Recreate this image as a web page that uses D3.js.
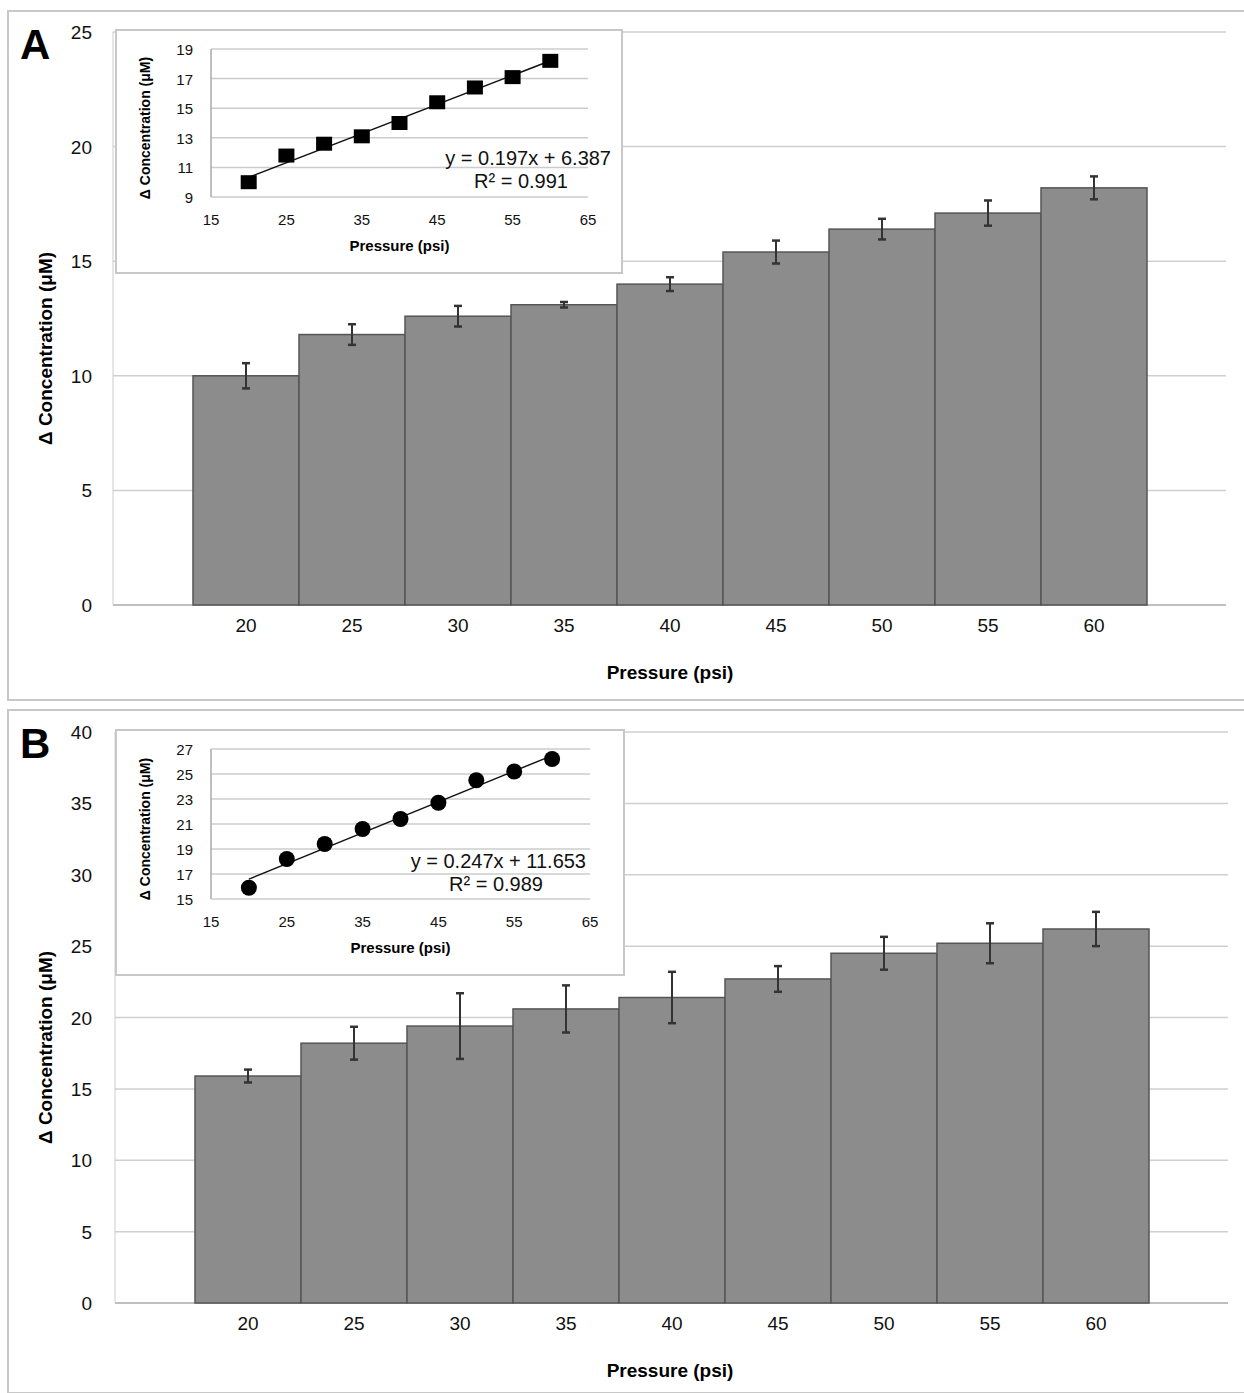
<!DOCTYPE html>
<html>
<head>
<meta charset="utf-8">
<script src="https://cdn.jsdelivr.net/npm/d3@7"></script>
<style>
  body { margin: 0; background: #fff; }
  text { font-family: "Liberation Sans", Arial, sans-serif; }
</style>
</head>
<body>
<svg id="chart" width="1244" height="1393"></svg>
<script>
const pressures = [20, 25, 30, 35, 40, 45, 50, 55, 60];
const meansA = [10.0, 11.8, 12.6, 13.1, 14.0, 15.4, 16.4, 17.1, 18.2];
const errA = [0.55, 0.45, 0.45, 0.12, 0.3, 0.5, 0.45, 0.55, 0.5];
const meansB = [15.9, 18.2, 19.4, 20.6, 21.4, 22.7, 24.5, 25.2, 26.2];
const errB = [0.45, 1.15, 2.3, 1.65, 1.8, 0.9, 1.15, 1.4, 1.2];
const ticksA = [0, 5, 10, 15, 20, 25];
const ticksB = [0, 5, 10, 15, 20, 25, 30, 35, 40];
const insetXTicks = [15, 25, 35, 45, 55, 65];
const insetTicksA = [9, 11, 13, 15, 17, 19];
const insetTicksB = [15, 17, 19, 21, 23, 25, 27];

const svg = d3.select("#chart");

function drawPanel(p) {
    const g = svg.append("g");
    g.append("rect").attr("x", p.box[0]).attr("y", p.box[1])
        .attr("width", p.box[2]).attr("height", p.box[3])
        .attr("fill", "#fff").attr("stroke", "#c8c8c8").attr("stroke-width", 2);

    const y = d3.scaleLinear().domain([0, p.yMax]).range([p.y0, p.yTop]);
    const x = d3.scaleBand().domain(pressures).range([p.barL, p.barR]).padding(0);

    // gridlines
    g.selectAll(".grid").data(p.ticks.slice(1)).join("line")
        .attr("x1", p.axL).attr("x2", p.axR)
        .attr("y1", d => y(d)).attr("y2", d => y(d))
        .attr("stroke", "#cfcfcf").attr("stroke-width", 1.5);
    g.append("line").attr("x1", p.axL).attr("x2", p.axR).attr("y1", p.y0).attr("y2", p.y0)
        .attr("stroke", "#aaa").attr("stroke-width", 1.5);
    g.append("line").attr("x1", p.axL).attr("x2", p.axL).attr("y1", p.y0).attr("y2", p.yTop)
        .attr("stroke", "#ccc").attr("stroke-width", 1);

    g.selectAll(".ytick").data(p.ticks).join("text")
        .attr("x", 92).attr("y", d => y(d) + 7).attr("text-anchor", "end")
        .attr("font-size", 19).attr("fill", "#111").text(d => d);

    // bars
    g.selectAll(".bar").data(p.means).join("rect")
        .attr("x", (d, i) => x(pressures[i]))
        .attr("y", d => y(d))
        .attr("width", x.bandwidth())
        .attr("height", d => p.y0 - y(d))
        .attr("fill", "#8c8c8c").attr("stroke", "#555").attr("stroke-width", 1.5);

    // error bars
    p.means.forEach((m, i) => {
        const cx = x(pressures[i]) + x.bandwidth() / 2;
        const e = p.err[i];
        g.append("line").attr("x1", cx).attr("x2", cx).attr("y1", y(m - e)).attr("y2", y(m + e))
            .attr("stroke", "#333").attr("stroke-width", 2);
        [m - e, m + e].forEach(v => g.append("line").attr("x1", cx - 4).attr("x2", cx + 4)
            .attr("y1", y(v)).attr("y2", y(v)).attr("stroke", "#333").attr("stroke-width", 2.5));
    });

    g.selectAll(".xtick").data(pressures).join("text")
        .attr("x", d => x(d) + x.bandwidth() / 2).attr("y", p.y0 + 27)
        .attr("text-anchor", "middle").attr("font-size", 19).attr("fill", "#111").text(d => d);

    g.append("text").attr("x", 670).attr("y", p.y0 + 74).attr("text-anchor", "middle")
        .attr("font-size", 19).attr("font-weight", "bold").text("Pressure (psi)");
    g.append("text").attr("transform", `translate(52,${(p.y0 + p.yTop) / 2 + 30}) rotate(-90)`)
        .attr("text-anchor", "middle").attr("font-size", 19).attr("font-weight", "bold")
        .text("Δ Concentration (μM)");
    g.append("text").attr("x", 20).attr("y", p.box[1] + 48).attr("font-size", 42)
        .attr("font-weight", "bold").text(p.label);

    // inset
    const ins = p.inset;
    g.append("rect").attr("x", ins.box[0]).attr("y", ins.box[1])
        .attr("width", ins.box[2]).attr("height", ins.box[3])
        .attr("fill", "#fff").attr("stroke", "#c8c8c8").attr("stroke-width", 2);
    const ix = d3.scaleLinear().domain([15, 65]).range([ins.xL, ins.xR]);
    const iy = d3.scaleLinear().domain(ins.yDom).range([ins.yB, ins.yT]);
    g.selectAll(".igrid").data(ins.ticks.slice(1)).join("line")
        .attr("x1", ins.xL).attr("x2", ins.xR).attr("y1", d => iy(d)).attr("y2", d => iy(d))
        .attr("stroke", "#ccc").attr("stroke-width", 1.5);
    g.append("line").attr("x1", ins.xL).attr("x2", ins.xR).attr("y1", ins.yB).attr("y2", ins.yB)
        .attr("stroke", "#ccc").attr("stroke-width", 1.5);
    g.append("line").attr("x1", ins.xL).attr("x2", ins.xL).attr("y1", ins.yB).attr("y2", ins.yT)
        .attr("stroke", "#aaa").attr("stroke-width", 1.5);
    g.selectAll(".iyt").data(ins.ticks).join("text")
        .attr("x", ins.xL - 18).attr("y", d => iy(d) + 6).attr("text-anchor", "end")
        .attr("font-size", 15).attr("fill", "#111").text(d => d);
    g.selectAll(".ixt").data(insetXTicks).join("text")
        .attr("x", d => ix(d)).attr("y", ins.yB + 28).attr("text-anchor", "middle")
        .attr("font-size", 15).attr("fill", "#111").text(d => d);
    g.append("text").attr("x", (ins.xL + ins.xR) / 2).attr("y", ins.yB + 54)
        .attr("text-anchor", "middle").attr("font-size", 15).attr("font-weight", "bold")
        .text("Pressure (psi)");
    g.append("text").attr("transform", `translate(150,${(ins.yB + ins.yT) / 2 + 5}) rotate(-90)`)
        .attr("text-anchor", "middle").attr("font-size", 14).attr("font-weight", "bold")
        .text("Δ Concentration (μM)");
    g.append("line").attr("x1", ix(20)).attr("x2", ix(60))
        .attr("y1", iy(ins.slope * 20 + ins.icpt)).attr("y2", iy(ins.slope * 60 + ins.icpt))
        .attr("stroke", "#111").attr("stroke-width", 1.5);
    g.selectAll(".pt").data(p.means).join(ins.marker === "square" ? "rect" : "circle")
        .each(function (d, i) {
            const s = d3.select(this).attr("fill", "#000");
            if (ins.marker === "square") {
                s.attr("x", ix(pressures[i]) - 8).attr("y", iy(d) - 7).attr("width", 16).attr("height", 14);
            } else {
                s.attr("cx", ix(pressures[i])).attr("cy", iy(d)).attr("r", 8);
            }
        });
    g.append("text").attr("x", ins.eqX).attr("y", ins.eqY).attr("text-anchor", "end")
        .attr("font-size", 20).attr("fill", "#111").text(ins.eq);
    g.append("text").attr("x", ins.eqX - 43).attr("y", ins.eqY + 23).attr("text-anchor", "end")
        .attr("font-size", 20).attr("fill", "#111").text(ins.r2);
}

drawPanel({
    label: "A", box: [8, 11, 1240, 689], y0: 605, yTop: 32, yMax: 25, ticks: ticksA,
    axL: 113, axR: 1226, barL: 193, barR: 1147, means: meansA, err: errA,
    inset: { box: [116, 30, 506, 243], xL: 211, xR: 588, yB: 197, yT: 49, yDom: [9, 19],
        ticks: insetTicksA, slope: 0.197, icpt: 6.387, marker: "square",
        eq: "y = 0.197x + 6.387", r2: "R² = 0.991", eqX: 611, eqY: 165 }
});
drawPanel({
    label: "B", box: [8, 710, 1240, 683], y0: 1303, yTop: 732, yMax: 40, ticks: ticksB,
    axL: 115, axR: 1228, barL: 195, barR: 1149, means: meansB, err: errB,
    inset: { box: [116, 730, 508, 245], xL: 211, xR: 590, yB: 899, yT: 749, yDom: [15, 27],
        ticks: insetTicksB, slope: 0.247, icpt: 11.653, marker: "circle",
        eq: "y = 0.247x + 11.653", r2: "R² = 0.989", eqX: 586, eqY: 868 }
});
</script>
</body>
</html>
